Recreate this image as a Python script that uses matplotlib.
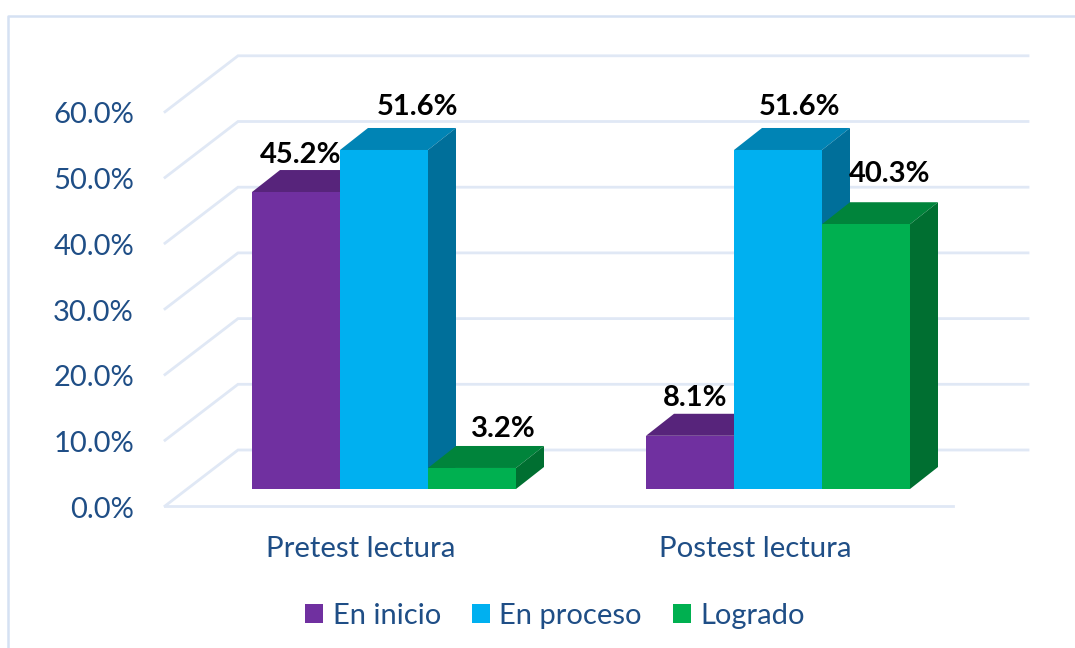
import matplotlib
matplotlib.use("Agg")
import matplotlib.pyplot as plt
import numpy as np

plt.rcParams['font.family'] = ['Lato', 'DejaVu Sans']

categorias = ["Pretest lectura", "Postest lectura"]
series = ["En inicio", "En proceso", "Logrado"]
en_inicio = [45.2, 8.1]
en_proceso = [51.6, 51.6]
logrado = [3.2, 40.3]
ticks_y = [0, 10, 20, 30, 40, 50, 60]

# colores: frente, tapa, lateral
colores = [("#7030A0", "#57247B", "#4C1F6C"),
           ("#00B0F0", "#0084B5", "#006F9A"),
           ("#00B050", "#00843B", "#006F31")]
azul_texto = "#1F4E86"
gris_grid = "#E0E8F5"

W, H = 1075, 648
fig = plt.figure(figsize=(W / 100, H / 100), dpi=100)
ax = fig.add_axes([0, 0, 1, 1])

# escala: una categoria = 394 px, un punto porcentual = 6.57 px
px_x = 394.0
px_y = 6.57
ax.set_xlim(-384 / px_x, (W - 384) / px_x)
ax.set_ylim((489 - H) / px_y, 489 / px_y)
ax.axis("off")


def xp(p):
    return (p - 384) / px_x


def yp(p):
    return (489 - p) / px_y


# marco del grafico
ax.plot([xp(8), xp(8), xp(W)], [yp(H), yp(16), yp(16)], color="#D5E1F3", lw=1.8, zorder=1)

# paredes y lineas de division
for t in ticks_y:
    y_front = yp(506) + t
    y_back = yp(450) + t
    ax.plot([xp(165), xp(238), xp(1028)], [y_front, y_back, y_back],
            color=gris_grid, lw=2.0, zorder=1, solid_joinstyle="miter")
    ax.text(xp(134), y_front - 0.55, f"{t:.1f}%", ha="right", va="center",
            fontsize=21, color=azul_texto)
ax.plot([xp(165), xp(953)], [yp(506), yp(506)], color=gris_grid, lw=2.0, zorder=1)

# barras con efecto 3D
ancho = 88 / px_x
dx = 28 / px_x
dy = 22 / px_y
x = np.arange(len(categorias))
valores = [en_inicio, en_proceso, logrado]
handles = []
z = 3
for i, vals in enumerate(valores):
    frente, tapa, lado = colores[i]
    xs = x + (i - 1) * ancho
    for xc, v in zip(xs, vals):
        izq, der = xc - ancho / 2, xc + ancho / 2
        ax.fill([izq, der, der + dx, izq + dx], [v, v, v + dy, v + dy],
                color=tapa, lw=0, zorder=z)
        ax.fill([der, der + dx, der + dx, der], [0, dy, v + dy, v],
                color=lado, lw=0, zorder=z)
        ax.bar(xc, v, ancho, color=frente, lw=0, zorder=z + 0.5)
        z += 1
    handles.append(plt.Rectangle((0, 0), 1, 1, color=frente, lw=0))

# etiquetas de datos (desplazamiento en px respecto al frente de la barra)
offs = [[(5, 37), (5, 38)], [(34, 43), (22, 43)], [(31, 39), (24, 50)]]
for i, vals in enumerate(valores):
    xs = x + (i - 1) * ancho
    for j, (xc, v) in enumerate(zip(xs, vals)):
        ox, oy = offs[i][j]
        ax.text(xc + ox / px_x, v + oy / px_y, f"{v:.1f}%", ha="center", va="center",
                fontsize=21, fontweight="bold", color="black", zorder=50)

# categorias
for xc, c in zip(x, categorias):
    ax.text(xc - 23 / px_x, yp(549), c, ha="center", va="center", fontsize=21.2, color=azul_texto)

leg = ax.legend(handles, series, ncol=3, loc="center", frameon=False,
                bbox_to_anchor=(555 / W, 1 - 616 / H), fontsize=21,
                labelcolor=azul_texto, handlelength=0.62, handleheight=0.62,
                handletextpad=0.33, columnspacing=1.05, borderpad=0, borderaxespad=0)

fig.savefig("out.png", dpi=100)
